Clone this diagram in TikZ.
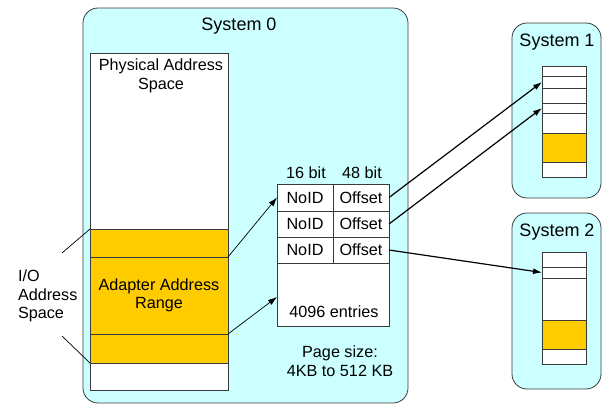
\documentclass[tikz,border=0pt]{standalone}
\usepackage{fontspec}
\setmainfont{Liberation Sans}
\usetikzlibrary{arrows.meta}
\definecolor{sysfill}{HTML}{CCFFFF}
\definecolor{band}{HTML}{FFCC00}
\definecolor{edge}{HTML}{3A3A3A}

\begin{document}
\begin{tikzpicture}[x=1pt,y=-1pt,
  every node/.style={inner sep=0pt, outer sep=0pt},
  sysbox/.style={draw=edge, fill=sysfill, rounded corners=15pt, line width=0.8pt},
  cell/.style={draw=edge, fill=white, line width=0.8pt},
  bandcell/.style={draw=edge, fill=band, line width=0.8pt},
  body/.style={font=\fontsize{16.2}{18.5}\selectfont, align=center},
  title/.style={font=\fontsize{18}{20}\selectfont},
  ptr/.style={draw=black, line width=1.2pt, -{Latex[length=9pt,width=6pt]}},
  lead/.style={draw=black, line width=0.7pt}]

\useasboundingbox (0,0) rectangle (604,405);

% ---------- System 0 ----------
\node[sysbox, minimum width=325pt, minimum height=395pt] (sys0) at (245.5,205.5) {};
\node[title] (sys0t) at (239,26) {System 0};

% physical address space column
\node[cell, minimum width=138pt, minimum height=337pt] (pas) at (159,221.5) {};
\node[body] (past) at (161,76) {Physical Address\\Space};
\node[bandcell, minimum width=138pt, minimum height=28pt] (ioup) at (159,243) {};
\node[bandcell, minimum width=138pt, minimum height=77pt, body] (adr) at (159,295.5) {Adapter Address\\Range};
\node[bandcell, minimum width=138pt, minimum height=29pt] (iolo) at (159,348.5) {};

% I/O address space label with leader lines
\node[body, align=left, anchor=west] (iot) at (18,296) {I/O\\Address\\Space};
\coordinate (l1) at (62,253);
\coordinate (l2) at (62,336);
\draw[lead] (l1) -- (ioup.north west);
\draw[lead] (l2) -- (iolo.south west);

% translation table
\node[body] (h16) at (306,173) {16 bit};
\node[body] (h48) at (362,173) {48 bit};
\node[cell, body, minimum width=56pt, minimum height=27pt] (id1) at (305,197.5) {NoID};
\node[cell, body, minimum width=56pt, minimum height=27pt] (of1) at (361,197.5) {Offset};
\node[cell, body, minimum width=56pt, minimum height=26pt] (id2) at (305,224) {NoID};
\node[cell, body, minimum width=56pt, minimum height=26pt] (of2) at (361,224) {Offset};
\node[cell, body, minimum width=56pt, minimum height=26pt] (id3) at (305,250) {NoID};
\node[cell, body, minimum width=56pt, minimum height=26pt] (of3) at (361,250) {Offset};
\node[cell, minimum width=112pt, minimum height=63pt] (rest) at (333,294.5) {};
\node[body] (ent) at (334,312) {4096 entries};

\node[body] (pg) at (340,361) {Page size:\\4KB to 512 KB};

\draw[ptr, line width=0.7pt] (adr.north east) -- (id1.west);
\draw[ptr, line width=0.7pt] (adr.south east) -- (rest.west |- 0,297);

% ---------- System 1 ----------
\node[sysbox, minimum width=89pt, minimum height=175pt] (sys1) at (556.5,110.5) {};
\node[title] (sys1t) at (557,42) {System 1};
\node[cell, minimum width=44pt, minimum height=10pt] (a1) at (564,71) {};
\node[cell, minimum width=44pt, minimum height=12pt] (a2) at (564,82) {};
\node[cell, minimum width=44pt, minimum height=15pt] (a3) at (564,95.5) {};
\node[cell, minimum width=44pt, minimum height=10pt] (a4) at (564,108) {};
\node[cell, minimum width=44pt, minimum height=20pt] (a5) at (564,123) {};
\node[bandcell, minimum width=44pt, minimum height=29pt] (a6) at (564,147.5) {};
\node[cell, minimum width=44pt, minimum height=15pt] (a7) at (564,169.5) {};

% ---------- System 2 ----------
\node[sysbox, minimum width=89pt, minimum height=176pt] (sys2) at (556.5,301) {};
\node[title] (sys2t) at (557,232) {System 2};
\node[cell, minimum width=44pt, minimum height=15pt] (b1) at (564,259.5) {};
\node[cell, minimum width=44pt, minimum height=11pt] (b2) at (564,272.5) {};
\node[cell, minimum width=44pt, minimum height=42pt] (b3) at (564,299) {};
\node[bandcell, minimum width=44pt, minimum height=29pt] (b4) at (564,334.5) {};
\node[cell, minimum width=44pt, minimum height=15pt] (b5) at (564,356.5) {};

% remote pointers
\draw[ptr] (of1.east) -- (a2.west);
\draw[ptr] (of2.east) -- (a4.west);
\draw[ptr] (of3.east) -- (b2.west);

\end{tikzpicture}
\end{document}
